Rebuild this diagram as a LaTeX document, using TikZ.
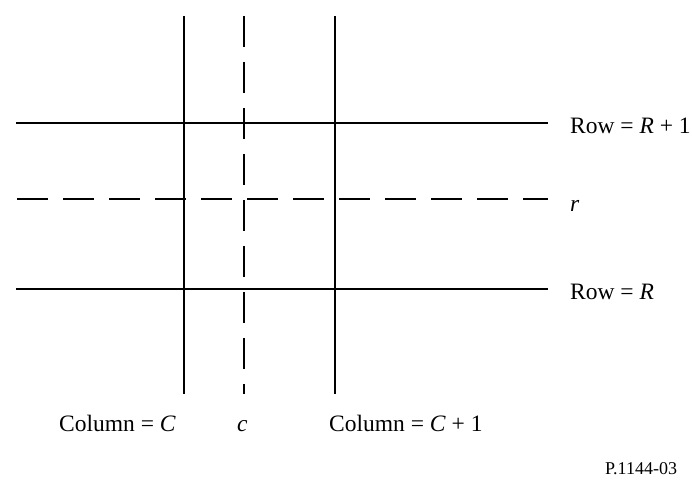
\documentclass[tikz,border=0pt]{standalone}
\usepackage{fontspec}
\setmainfont{Liberation Serif}
\begin{document}
\begin{tikzpicture}[x=1pt,y=-1pt,
  gridline/.style={line width=2pt},
  dashline/.style={line width=2pt,dash pattern=on 31pt off 15pt},
  lbl/.style={anchor=base west,inner sep=0pt,font=\fontsize{23.5}{28}\selectfont},
  tag/.style={anchor=base west,inner sep=0pt,font=\fontsize{18}{21}\selectfont}]
\useasboundingbox (0,0) rectangle (692,479);
% columns
\coordinate (cCt) at (184,16); \coordinate (cCb) at (184,394);
\coordinate (cct) at (244,16); \coordinate (ccb) at (244,394);
\coordinate (cDt) at (335,16); \coordinate (cDb) at (335,394);
% rows
\coordinate (rAl) at (16,123); \coordinate (rAr) at (548,123);
\coordinate (rrl) at (17,199); \coordinate (rrr) at (548,199);
\coordinate (rBl) at (16,289); \coordinate (rBr) at (548,289);
\draw[gridline] (cCt) -- (cCb);
\draw[dashline] (cct) -- (ccb);
\draw[gridline] (cDt) -- (cDb);
\draw[gridline] (rAl) -- (rAr);
\draw[dashline] (rrl) -- (rrr);
\draw[gridline] (rBl) -- (rBr);
% labels
\node[lbl] (lA) at (570,133) {Row = \textit{R} + 1};
\node[lbl] (lr) at (570,211) {\textit{r}};
\node[lbl] (lB) at (570,299) {Row = \textit{R}};
\node[lbl] (lC) at (59,431) {Column = \textit{C}};
\node[lbl] (lc) at (237,431) {\textit{c}};
\node[lbl] (lD) at (329,431) {Column = \textit{C} + 1};
\node[tag] (tg) at (605,474) {P.1144-03};
\end{tikzpicture}
\end{document}
